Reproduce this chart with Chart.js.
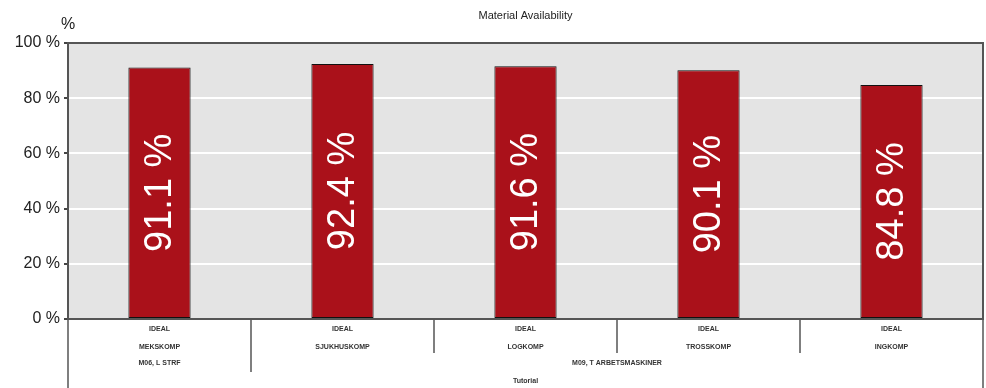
<!DOCTYPE html>
<html>
<head>
<meta charset="utf-8">
<script src="https://cdn.jsdelivr.net/npm/chart.js@4.4.1/dist/chart.umd.min.js"></script>
<style>
  html, body { margin: 0; padding: 0; background: #ffffff; }
  #wrap { width: 986px; height: 388px; position: relative; }
</style>
</head>
<body>
<div id="wrap"><canvas id="chart"></canvas></div>
<script>
// Chart data
const chartTitle = 'Material Availability';
const categories = ['MEKSKOMP', 'SJUKHUSKOMP', 'LOGKOMP', 'TROSSKOMP', 'INGKOMP'];
const scenarios = ['IDEAL', 'IDEAL', 'IDEAL', 'IDEAL', 'IDEAL'];
const unitGroups = ['M06, L STRF', 'M09, T ARBETSMASKINER'];
const unitOfCategory = [0, 1, 1, 1, 1];
const topGroup = 'Tutorial';
const availability = [91.1, 92.4, 91.6, 90.1, 84.8];
const yTicks = [0, 20, 40, 60, 80, 100];

const FONT = "'Liberation Sans', Arial, sans-serif";

// Grey plot background, frame, bar labels and the nested category axis
const decorPlugin = {
  id: 'decor',
  beforeDraw(chart) {
    const { ctx, chartArea: a } = chart;
    ctx.save();
    ctx.fillStyle = '#e4e4e4';
    ctx.fillRect(a.left, a.top, a.right - a.left, a.bottom - a.top);
    ctx.restore();
  },
  afterDatasetsDraw(chart) {
    const { ctx, chartArea: a } = chart;
    const meta = chart.getDatasetMeta(0);
    ctx.save();

    // Values written vertically inside the bars
    ctx.fillStyle = '#ffffff';
    ctx.font = `38px ${FONT}`;
    ctx.textAlign = 'center';
    ctx.textBaseline = 'middle';
    meta.data.forEach((bar, i) => {
      const cy = (bar.y + bar.base) / 2;
      ctx.save();
      ctx.translate(bar.x, cy);
      ctx.rotate(-Math.PI / 2);
      ctx.fillText(availability[i].toFixed(1) + ' %', 0, 1);
      ctx.restore();
    });

    // Plot frame
    ctx.strokeStyle = '#555555';
    ctx.lineWidth = 2;
    ctx.strokeRect(a.left, a.top, a.right - a.left, a.bottom - a.top);

    // Title and unit label
    ctx.fillStyle = '#222222';
    ctx.font = `11px ${FONT}`;
    ctx.textAlign = 'center';
    ctx.fillText(chartTitle, (a.left + a.right) / 2, 16);
    ctx.font = `16px ${FONT}`;
    ctx.fillText('%', a.left, 25);

    // Nested category axis
    const n = categories.length;
    const step = (a.right - a.left) / n;
    const edge = (i) => a.left + i * step;
    const H = chart.height;

    ctx.strokeStyle = '#555555';
    ctx.lineWidth = 1.5;
    const vline = (x, y2) => {
      ctx.beginPath();
      ctx.moveTo(x, a.bottom);
      ctx.lineTo(x, y2);
      ctx.stroke();
    };
    vline(a.left, H);
    vline(a.right, H);
    for (let i = 1; i < n; i++) {
      const groupBreak = unitOfCategory[i] !== unitOfCategory[i - 1];
      vline(edge(i), groupBreak ? a.bottom + 53 : a.bottom + 34);
    }

    ctx.fillStyle = '#333333';
    ctx.font = `bold 7px ${FONT}`;
    for (let i = 0; i < n; i++) {
      const x = chart.scales.x.getPixelForValue(i);
      ctx.fillText(scenarios[i], x, a.bottom + 10);
      ctx.fillText(categories[i], x, a.bottom + 28);
    }
    unitGroups.forEach((g, gi) => {
      const idx = unitOfCategory.map((u, i) => (u === gi ? i : -1)).filter((i) => i >= 0);
      const x = (edge(idx[0]) + edge(idx[idx.length - 1] + 1)) / 2;
      ctx.fillText(g, x, a.bottom + 44);
    });
    ctx.fillText(topGroup, (a.left + a.right) / 2, a.bottom + 62);

    ctx.restore();
  },
};

new Chart(document.getElementById('chart'), {
  type: 'bar',
  data: {
    labels: categories,
    datasets: [
      {
        data: availability,
        backgroundColor: '#aa111a',
        borderColor: '#111111',
        borderWidth: 1,
        borderSkipped: false,
        barPercentage: 0.34,
        categoryPercentage: 1,
      },
    ],
  },
  options: {
    responsive: true,
    maintainAspectRatio: false,
    animation: false,
    devicePixelRatio: 1,
    layout: { padding: { top: 43, right: 3, left: 0, bottom: 0 } },
    plugins: {
      legend: { display: false },
      tooltip: { enabled: false },
    },
    scales: {
      x: {
        ticks: { display: false },
        grid: { display: false },
        border: { display: false },
        afterFit: (s) => { s.height = 69; },
      },
      y: {
        min: 0,
        max: 100,
        afterBuildTicks: (s) => { s.ticks = yTicks.map((v) => ({ value: v })); },
        ticks: {
          color: '#222222',
          font: { family: FONT, size: 16 },
          padding: 4,
          callback: (v) => v + ' %',
        },
        grid: {
          color: '#ffffff',
          lineWidth: 2,
          tickColor: '#444444',
          tickLength: 4,
          drawTicks: true,
        },
        border: { display: false },
        afterFit: (s) => { s.width = 68; },
      },
    },
  },
  plugins: [decorPlugin],
});
</script>
</body>
</html>
